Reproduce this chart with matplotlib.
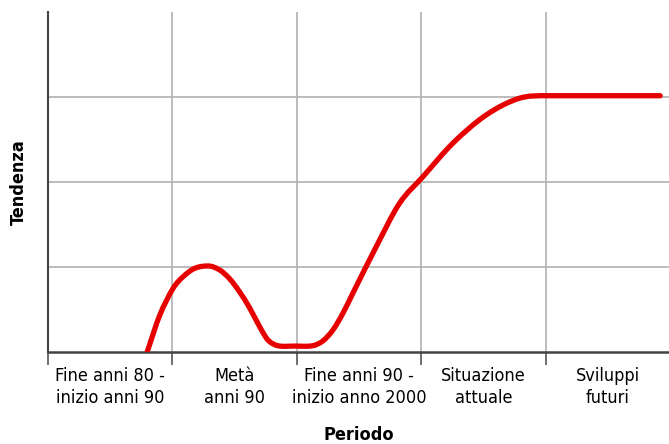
import numpy as np
import matplotlib
matplotlib.use('Agg')
import matplotlib.pyplot as plt
from matplotlib.path import Path
from matplotlib.patches import PathPatch

plt.rcParams['font.family'] = ['DejaVu Sans']
plt.rcParams['font.stretch'] = 'condensed'

# categories on the x axis
periodi = ['Fine anni 80 -\ninizio anni 90', 'Metà\nanni 90',
           'Fine anni 90 -\ninizio anno 2000', 'Situazione\nattuale',
           'Sviluppi\nfuturi']

# trend curve (x in category units, y in grid units)
curva_x = [0.797, 0.899, 1.006, 1.086, 1.180, 1.287, 1.380, 1.461,
           1.541, 1.621, 1.701, 1.768, 1.848, 1.98, 2.127, 2.209, 2.290, 2.370,
           2.450, 2.638, 2.825, 3.012, 3.253,
           3.521, 3.788, 4.015, 4.43, 4.92]
curva_y = [0.0, 0.435, 0.75, 0.886, 0.985, 1.012, 0.965, 0.86,
           0.705, 0.518, 0.298, 0.141, 0.074, 0.07, 0.074, 0.13, 0.259, 0.455,
           0.691, 1.239, 1.749, 2.06, 2.455,
           2.788, 2.985, 3.015, 3.015, 3.015]


def smooth_path(xs, ys):
    # Hermite curve with central-difference tangents, as cubic Bezier segments
    x = np.asarray(xs, float)
    y = np.asarray(ys, float)
    h = np.diff(x)
    d = np.diff(y) / h
    m = np.zeros_like(x)
    m[0] = d[0]
    m[-1] = d[-1]
    for i in range(1, len(x) - 1):
        if d[i - 1] * d[i] > 0:
            m[i] = (y[i + 1] - y[i - 1]) / (x[i + 1] - x[i - 1])
    verts = [(x[0], y[0])]
    codes = [Path.MOVETO]
    for i in range(len(x) - 1):
        verts += [(x[i] + h[i] / 3, y[i] + m[i] * h[i] / 3),
                  (x[i + 1] - h[i] / 3, y[i + 1] - m[i + 1] * h[i] / 3),
                  (x[i + 1], y[i + 1])]
        codes += [Path.CURVE4] * 3
    return Path(verts, codes)


fig = plt.figure(figsize=(6.69, 4.44), dpi=100)
ax = fig.add_axes([0.0717, 0.2072, 0.93, 0.7658])

ax.set_xlim(0, 5)
ax.set_ylim(0, 4)

ax.add_patch(PathPatch(smooth_path(curva_x, curva_y), facecolor='none',
                       edgecolor='#e60000', linewidth=3.8, capstyle='round',
                       joinstyle='round', zorder=3))

ax.set_xticks(range(6))
ax.set_xticklabels([])
ax.set_xticks(np.arange(0.5, 5, 1), minor=True)
ax.set_xticklabels(periodi, minor=True, fontsize=13, linespacing=1.25)
ax.tick_params(axis='x', which='major', length=9, width=1.2, color='#555555')
ax.tick_params(axis='x', which='minor', length=0, pad=11)
ax.set_yticks([1, 2, 3])
ax.set_yticklabels([])
ax.tick_params(axis='y', length=0)

ax.grid(True, which='major', color='#b0b0b0', linewidth=1.2)
ax.set_axisbelow(True)

for s in ['top', 'right']:
    ax.spines[s].set_visible(False)
ax.spines['left'].set_color('#444444')
ax.spines['left'].set_linewidth(1.5)
ax.spines['bottom'].set_color('#444444')
ax.spines['bottom'].set_linewidth(1.8)

ax.set_xlabel('Periodo', fontsize=13, fontweight='bold', labelpad=14)
ax.set_ylabel('Tendenza', fontsize=13, fontweight='bold', labelpad=11)

fig.savefig('out.png', dpi=100)
